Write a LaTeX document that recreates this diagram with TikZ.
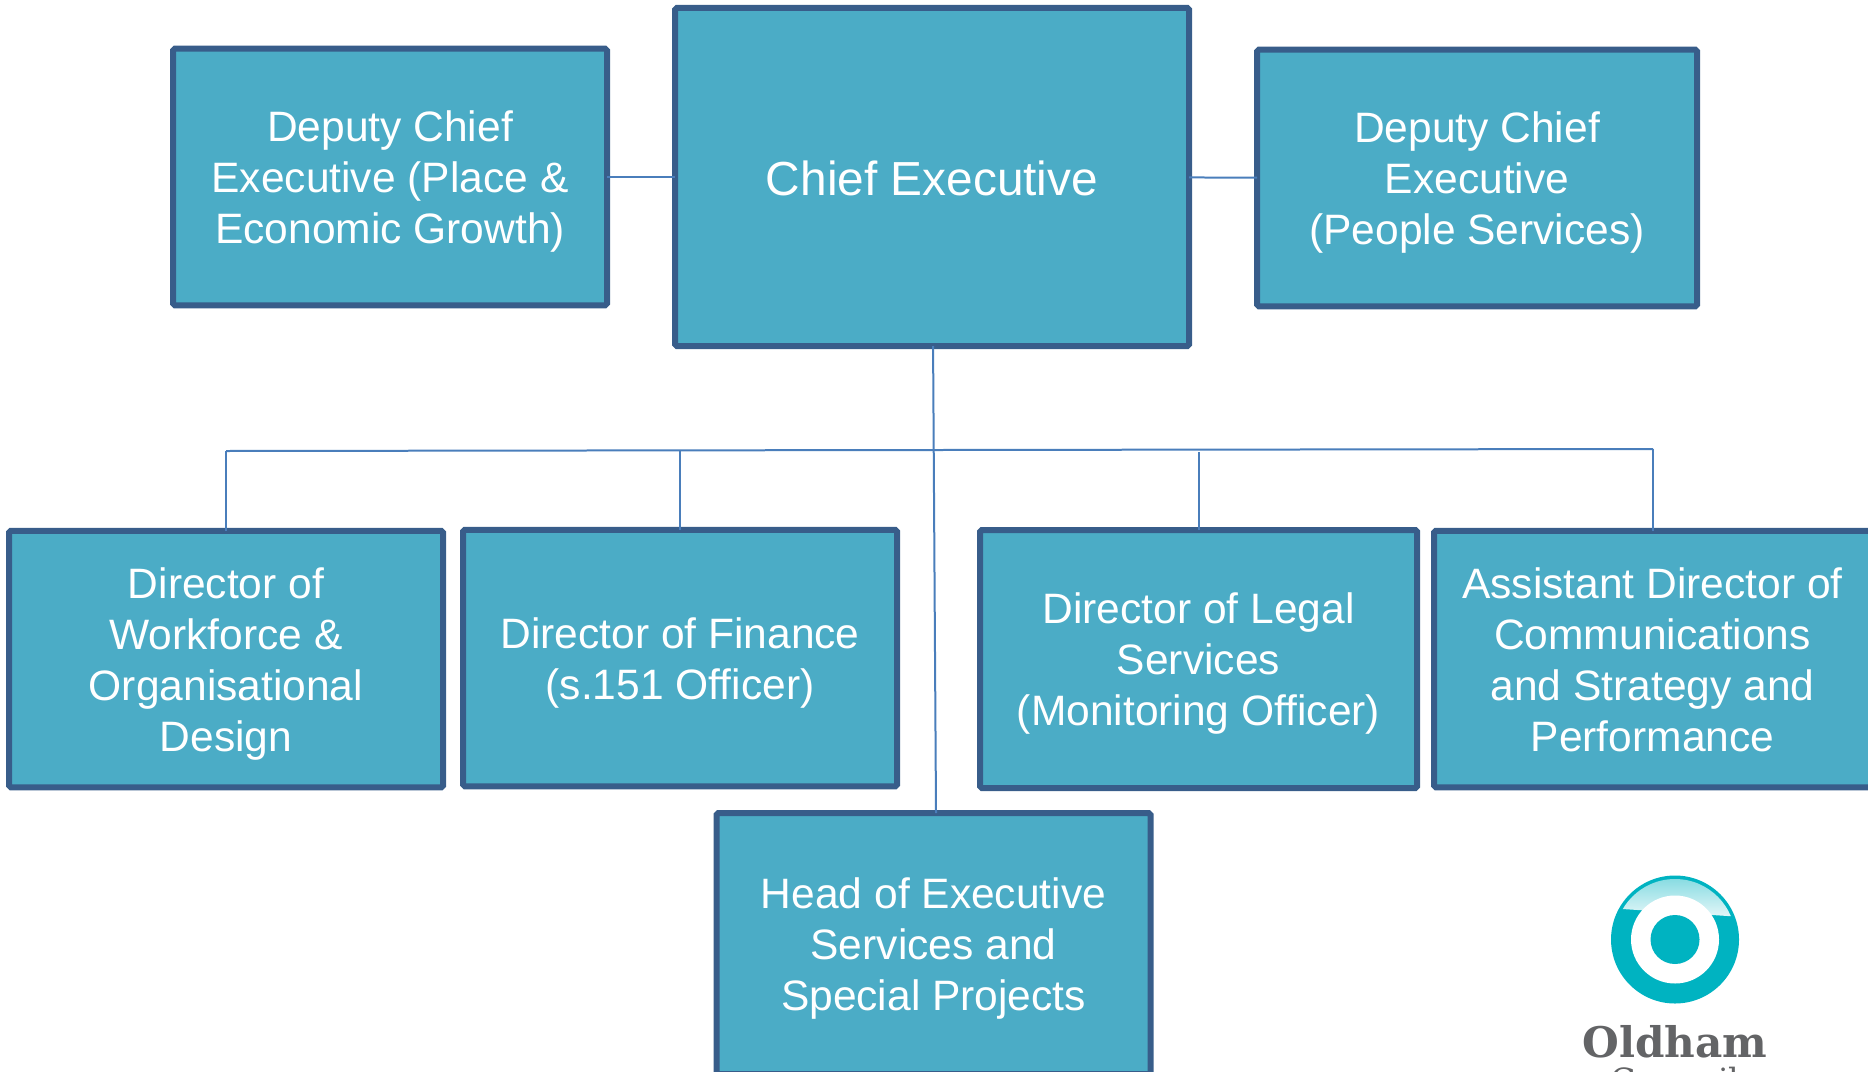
\documentclass[tikz,border=0pt]{standalone}
\usepackage{fontspec}
\setmainfont{Liberation Sans}
\newfontfamily\logofont{DejaVu Serif}
\usetikzlibrary{positioning}

\definecolor{boxfill}{HTML}{4BACC6}
\definecolor{boxline}{HTML}{385D8A}
\definecolor{linkline}{HTML}{4A7EBB}
\definecolor{logoteal}{HTML}{00B3C1}
\definecolor{logogrey}{HTML}{636466}

\newcommand{\boxtop}{\rule{0pt}{1em}}

\tikzset{
  box/.style={rectangle,draw=boxline,fill=boxfill,line width=.12cm,rounded corners=1pt,
    text=white,align=center,outer sep=0pt,minimum width=8.68cm,minimum height=5.13cm,
    font=\fontsize{24.2}{29}\selectfont,
    execute at end node={\rule[-.25em]{0pt}{.25em}}},
  link/.style={draw=linkline,line width=.04cm}
}

\begin{document}
\begin{tikzpicture}[auto, node distance=9.5cm]
\path[use as bounding box,clip] (0,0) rectangle (37.36,-21.42);

\node[box,minimum width=10.28cm,minimum height=6.76cm,font=\fontsize{27.2}{32}\selectfont] (ce) at (18.64,-3.54) {\rule{0pt}{1.28em}Chief Executive\rule[-.5em]{0pt}{.5em}};
\node[box,left of = ce,xshift=-1.34cm] (dl) {\boxtop Deputy Chief\\Executive (Place \&\\Economic Growth)};
\node[box,right of = ce,xshift=1.4cm,yshift=-.02cm,minimum width=8.8cm] (dr) {\boxtop Deputy Chief\\Executive\\(People Services)};
\node[box,below of = dl,xshift=-3.28cm,yshift=-.14cm] (d1) {\boxtop Director of\\Workforce \&\\Organisational\\Design};
\node[box,right of = d1,xshift=-.42cm,yshift=.02cm] (d2) {\boxtop Director of Finance\\(s.151 Officer)};
\node[box,below of = dr,xshift=-5.57cm,yshift=-.12cm,minimum width=8.74cm,minimum height=5.16cm] (d3) {\boxtop Director of Legal\\Services\\(Monitoring Officer)};
\node[box,right of = d3,xshift=-.42cm,minimum width=8.74cm] (d4) {\boxtop Assistant Director of\\Communications\\and Strategy and\\Performance};
\node[box,below of = ce,xshift=.03cm,yshift=-5.83cm,minimum height=5.22cm] (head) {\boxtop Head of Executive\\Services and\\Special Projects};

\coordinate (busl) at (4.52,-9.02);
\coordinate (busr) at (33.06,-8.98);

\draw [link] (dl) -- (ce);
\draw [link] (ce) -- (dr);
\draw [link] (ce) -- ([xshift=.05cm]head.north);
\draw [link] (busl) -- (busr);
\draw [link] (d1.north) -- (d1.north |- busl);
\draw [link] (d2.north) -- (d2.north |- busl);
\draw [link] (d3.north) -- ++(0,1.57);
\draw [link] (d4.north) -- (d4.north |- busr);

\node[circle,fill=logoteal,minimum size=2.56cm,inner sep=0pt] (ring) at (33.5,-18.79) {};
\begin{scope}
\clip (ring.center) circle (1.21cm);
\shade[top color=logoteal!50!white,bottom color=logoteal!10!white] (32,-17.5) -- (35,-17.5) -- (35,-18.35) -- (32,-18.15) -- cycle;
\end{scope}
\node[circle,fill=white,minimum size=1.76cm,inner sep=0pt] (hole) at (ring.center) {};
\node[circle,fill=logoteal,minimum size=.98cm,inner sep=0pt] (dot) at (ring.center) {};
\node[font=\logofont\bfseries\fontsize{24}{24}\selectfont,text=logogrey,anchor=base,inner sep=0pt] (oldham) at (33.5,-21.14) {Oldham};
\node[font=\logofont\fontsize{19}{19}\selectfont,text=logogrey,anchor=base,inner sep=0pt] (council) at (33.5,-21.85) {Council};
\end{tikzpicture}
\end{document}
